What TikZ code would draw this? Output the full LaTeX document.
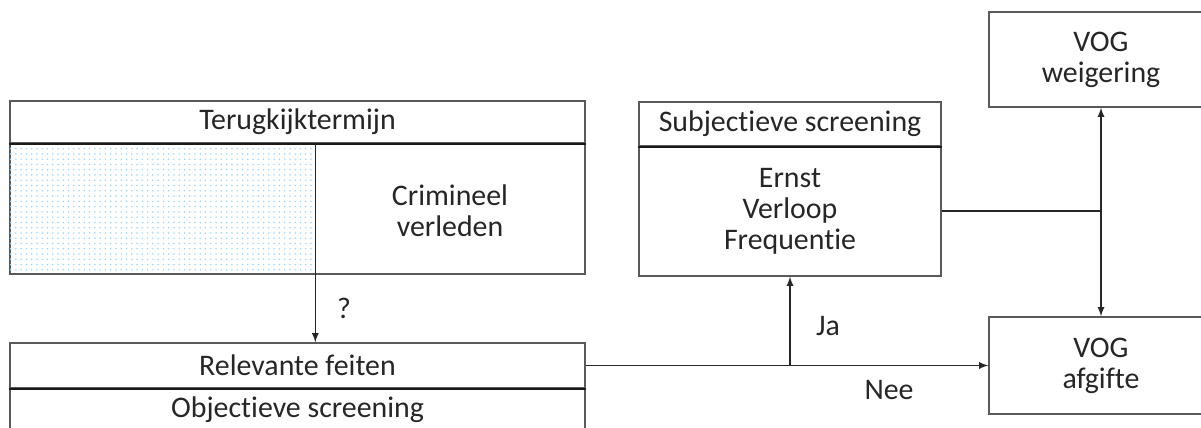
\documentclass[tikz,border=0pt]{standalone}
\usepackage{fontspec}
\setmainfont{Carlito}[Ligatures=NoCommon]
\usepackage{xcolor}
\usepackage{tikz}
\usetikzlibrary{patterns}

\begin{document}
\begin{tikzpicture}[x=0.02cm,y=-0.02cm,>=latex,
		box/.style={draw=black!65,line width=0.8pt,rectangle,inner sep=0pt,align=center,text=black!85},
		txt/.style={inner sep=0pt,align=center,text=black!85},
		sepline/.style={black!90,line width=1.1pt},
		conn/.style={black!85,line width=0.8pt}]
		\clip (0,0) rectangle (1201,428);
		\fontsize{17}{17.6}\selectfont
		% linkerkant
		\node[box,minimum width=11.5cm,minimum height=0.84cm] (terug) at (297.5,122) {Terugkijktermijn};
		\node[box,minimum width=11.5cm,minimum height=2.62cm] (crim) at (297.5,208.5) {};
		\node[draw=none,pattern=dots,pattern color=blue!40!cyan!40,minimum width=6.1cm,minimum height=2.6cm,inner sep=0pt] (past) at (162.5,208.5) {};
		\node[txt] (crimtxt) at (450,210.5) {Crimineel\\verleden};
		\draw[sepline] (terug.south west) -- (terug.south east);
		\draw[conn] (past.north east) -- (past.south east);
		\node[box,minimum width=11.5cm,minimum height=0.9cm] (relev) at (297.5,365.5) {Relevante feiten};
		\node[box,minimum width=11.5cm,minimum height=0.88cm] (obj) at (297.5,410) {Objectieve screening};
		\draw[sepline] (relev.south west) -- (relev.south east);
		\draw[conn,->] (past.south east) -- (past.south east |- relev.north);
		\node[txt] (vraag) at (344,308) {?};
		% subjectief
		\node[box,minimum width=6.04cm,minimum height=0.88cm] (subj) at (790,124) {Subjectieve screening};
		\node[box,minimum width=6.04cm,minimum height=2.6cm] (subjbody) at (790,211) {Ernst\\Verloop\\Frequentie};
		\draw[sepline] (subj.south west) -- (subj.south east);
		% VOG
		\node[box,minimum width=4.48cm,minimum height=1.9cm] (weig) at (1101,59.5) {VOG\\weigering};
		\node[box,minimum width=4.48cm,minimum height=1.94cm] (afg) at (1101,365.5) {VOG\\afgifte};
		% verbindingen
		\draw[conn,->] (relev.east) -- (afg.west);
		\draw[conn,->] (subjbody.south |- relev.east) -- (subjbody.south);
		\draw[conn,<->] (weig.south) -- (afg.north);
		\draw[conn] (subjbody.east) -- (subjbody.east -| weig.south);
		\node[txt] (ja) at (828,326) {Ja};
		\node[txt] (nee) at (889,390) {Nee};
\end{tikzpicture}
\end{document}
